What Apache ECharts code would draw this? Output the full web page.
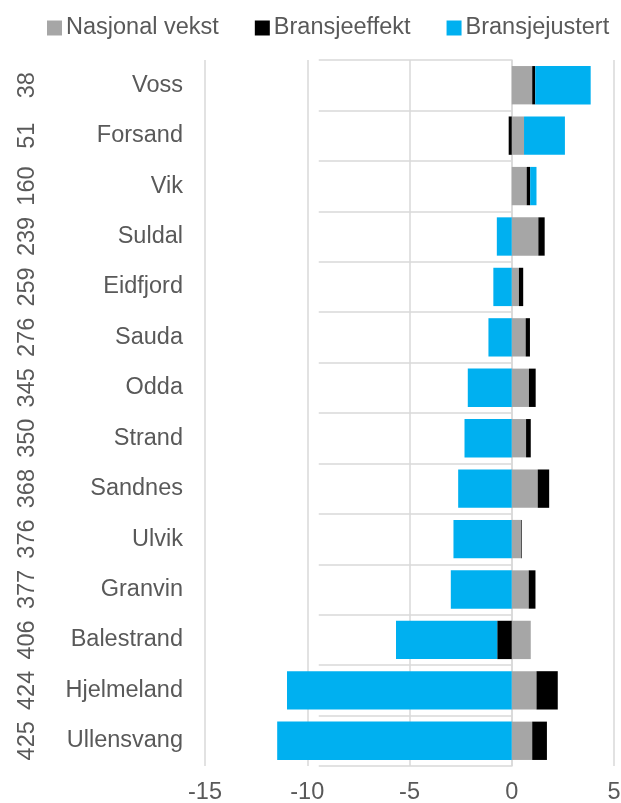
<!DOCTYPE html>
<html>
<head>
<meta charset="utf-8">
<script src="https://cdn.jsdelivr.net/npm/echarts@6/dist/echarts.min.js"></script>
<style>
  html, body { margin: 0; padding: 0; background: #fff; }
  #chart { width: 621px; height: 803px; }
</style>
</head>
<body>
<div id="chart"></div>
<script>
const names = ['Voss', 'Forsand', 'Vik', 'Suldal', 'Eidfjord', 'Sauda', 'Odda', 'Strand', 'Sandnes', 'Ulvik', 'Granvin', 'Balestrand', 'Hjelmeland', 'Ullensvang'];
const ranks = ['38', '51', '160', '239', '259', '276', '345', '350', '368', '376', '377', '406', '424', '425'];
const nasjonalVekst = [1.0, 0.6, 0.73, 1.3, 0.35, 0.68, 0.84, 0.70, 1.27, 0.47, 0.83, 0.93, 1.21, 1.0];
const bransjeeffekt = [0.15, -0.15, 0.17, 0.31, 0.21, 0.21, 0.33, 0.23, 0.56, 0.03, 0.33, -0.71, 1.04, 0.72];
const bransjejustert = [2.71, 2.0, 0.31, -0.73, -0.9, -1.14, -2.15, -2.31, -2.62, -2.85, -2.98, -4.95, -10.99, -11.47];
const xTicks = [-15, -10, -5, 0, 5];

const FONT = 'Liberation Sans, Arial, sans-serif';
const TXT = '#595959';
const GRID = '#d9d9d9';
const FS = 23.5;

const chart = echarts.init(document.getElementById('chart'), null, { renderer: 'canvas' });
chart.setOption({
  animation: false,
  textStyle: { fontFamily: FONT },
  legend: {
    left: 42, top: 11,
    itemWidth: 15, itemHeight: 15, itemGap: 36,
    icon: 'rect',
    textStyle: { fontSize: FS, color: TXT, fontFamily: FONT, padding: [0, 0, 0, -1] },
    data: ['Nasjonal vekst', 'Bransjeeffekt', 'Bransjejustert']
  },
  grid: { left: 205, right: 7, top: 60, bottom: 37, containLabel: false, outerBoundsMode: 'none' },
  xAxis: {
    type: 'value',
    min: xTicks[0], max: xTicks[xTicks.length - 1], interval: 5,
    axisLine: { show: false },
    axisTick: { show: false },
    axisLabel: { fontSize: FS, color: TXT, fontFamily: FONT, margin: 15 },
    splitLine: { show: true, lineStyle: { color: GRID, width: 1.5 } }
  },
  yAxis: [
    {
      type: 'category', inverse: true, data: names,
      axisLine: { show: true, lineStyle: { color: GRID, width: 1.5 } },
      axisTick: { show: true, length: 193, interval: 0, lineStyle: { color: GRID, width: 1.5 } },
      axisLabel: { fontSize: FS, color: TXT, fontFamily: FONT, margin: 22, interval: 0 }
    },
    {
      type: 'category', inverse: true, data: ranks, position: 'left', offset: 160,
      axisLine: { show: false }, axisTick: { show: false },
      axisLabel: { fontSize: FS, color: TXT, fontFamily: FONT, margin: 5, rotate: 90, interval: 0 }
    }
  ],
  series: [
    { name: 'Nasjonal vekst', type: 'bar', stack: 'tot', data: nasjonalVekst, barCategoryGap: '24%', itemStyle: { color: '#a6a6a6' } },
    { name: 'Bransjeeffekt', type: 'bar', stack: 'tot', data: bransjeeffekt, itemStyle: { color: '#000000' } },
    { name: 'Bransjejustert', type: 'bar', stack: 'tot', data: bransjejustert, itemStyle: { color: '#00b0f0' } }
  ]
});
</script>
</body>
</html>
